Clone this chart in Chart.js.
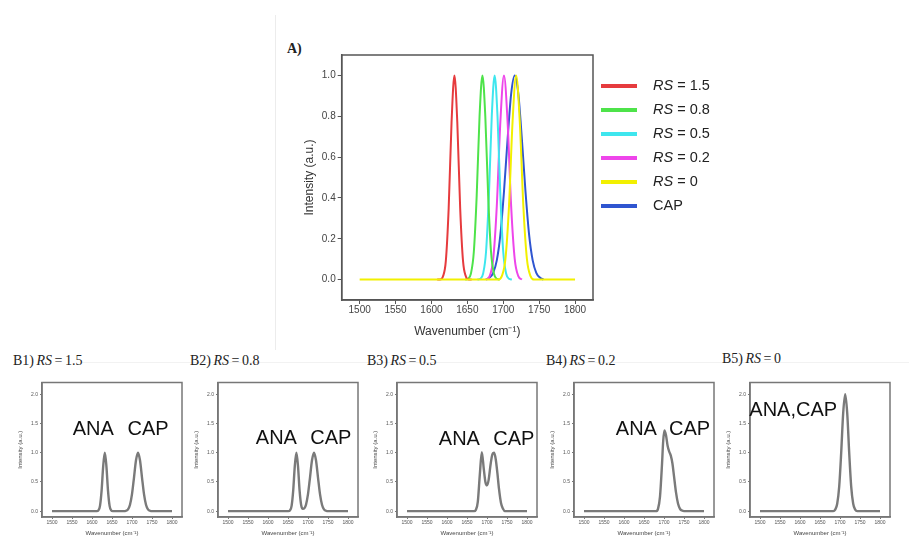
<!DOCTYPE html>
<html lang="en">
<head>
<meta charset="UTF-8">
<title>RS simulation</title>
<script src="https://cdn.jsdelivr.net/npm/chart.js"></script>
<style>
  body { margin: 0; background: #fff; }
  #page { position: relative; width: 909px; height: 540px; overflow: hidden; font-family: "Liberation Serif", "Times New Roman", serif; }
  canvas { position: absolute; }
  .ttl { position: absolute; font-size: 14px; color: #222; white-space: nowrap; word-spacing: -1px; }
  .faint { position: absolute; background: #ececec; }
</style>
</head>
<body>
<div id="page">
  <div class="faint" style="left:275px;top:15px;width:1px;height:335px"></div>
  <div class="faint" style="left:82px;top:362px;width:827px;height:1px;background:#f2f2f2"></div>
  <div class="ttl" style="left:287px;top:41px;font-weight:bold">A)</div>
  <div class="ttl" style="left:13px;top:353px">B1)&nbsp;<i>RS</i> = 1.5</div>
  <div class="ttl" style="left:190px;top:353px">B2)&nbsp;<i>RS</i> = 0.8</div>
  <div class="ttl" style="left:367px;top:353px">B3)&nbsp;<i>RS</i> = 0.5</div>
  <div class="ttl" style="left:546px;top:353px">B4)&nbsp;<i>RS</i> = 0.2</div>
  <div class="ttl" style="left:722px;top:351px">B5)&nbsp;<i>RS</i> = 0</div>
  <canvas id="main" width="440" height="320" style="left:280px;top:30px"></canvas>
  <canvas id="b1" width="180" height="180" style="left:5px;top:362px"></canvas>
  <canvas id="b2" width="180" height="180" style="left:181px;top:362px"></canvas>
  <canvas id="b3" width="180" height="180" style="left:360px;top:362px"></canvas>
  <canvas id="b4" width="180" height="180" style="left:537px;top:362px"></canvas>
  <canvas id="b5" width="180" height="180" style="left:713px;top:362px"></canvas>
</div>
<script>
// ticks
const mainXTicks = [1500, 1550, 1600, 1650, 1700, 1750, 1800];
const mainYTicks = [0, 0.2, 0.4, 0.6, 0.8, 1.0];
const smallYTicks = [0, 0.5, 1.0, 1.5, 2.0];

// panel A, one peak per series
const legendNames = ['1.5', '0.8', '0.5', '0.2', '0', 'CAP'];
const lineColors = ['#e63b3e', '#4ee34a', '#3ee6ee', '#ee45ea', '#f2f000', '#2f55d0'];

const rs15X = [1608, 1612, 1616, 1620, 1624, 1628, 1632, 1636, 1640, 1644, 1648, 1652, 1656];
const rs15Y = [0, 0, 0.015, 0.09, 0.35, 0.77, 1, 0.77, 0.35, 0.09, 0.015, 0, 0];
const rs08X = [1647, 1651, 1655, 1659, 1663, 1667, 1671, 1675, 1679, 1683, 1687, 1691, 1695];
const rs08Y = [0, 0.004, 0.03, 0.135, 0.41, 0.8, 1, 0.8, 0.41, 0.135, 0.03, 0.004, 0];
const rs05X = [1664, 1668, 1672, 1676, 1680, 1684, 1688, 1692, 1696, 1700, 1704, 1708, 1712];
const rs05Y = [0, 0.004, 0.03, 0.135, 0.41, 0.8, 1, 0.8, 0.41, 0.135, 0.03, 0.004, 0];
const rs02X = [1676, 1681, 1686, 1691, 1696, 1701, 1706, 1711, 1716, 1721, 1726];
const rs02Y = [0, 0.017, 0.1, 0.36, 0.775, 1, 0.775, 0.36, 0.1, 0.017, 0];
const rs0X = [1500, 1693, 1698, 1703, 1708, 1713, 1718, 1723, 1728, 1733, 1738, 1743, 1800];
const rs0Y = [0, 0, 0.017, 0.1, 0.36, 0.775, 1, 0.775, 0.36, 0.1, 0.017, 0, 0];
const capX = [1676, 1681, 1686, 1691, 1696, 1701, 1706, 1711, 1716, 1721, 1726, 1731, 1736, 1741, 1746, 1751, 1756];
const capY = [0, 0.01, 0.033, 0.094, 0.22, 0.43, 0.685, 0.91, 1, 0.91, 0.685, 0.43, 0.22, 0.094, 0.033, 0.01, 0];

// panels B1..B5, summed ANA + CAP signal
const b1X = [1500, 1612, 1616, 1620, 1624, 1628, 1632, 1636, 1640, 1644, 1648, 1652, 1680, 1685, 1690, 1695, 1700, 1705, 1710, 1715, 1720, 1725, 1730, 1735, 1740, 1745, 1750, 1800];
const b1Y = [0, 0, 0.015, 0.09, 0.35, 0.77, 1, 0.77, 0.35, 0.09, 0.015, 0, 0, 0.007, 0.03, 0.11, 0.29, 0.575, 0.87, 1, 0.87, 0.575, 0.29, 0.11, 0.03, 0.007, 0, 0];
const b2X = [1500, 1651, 1655, 1659, 1663, 1667, 1671, 1675, 1679, 1683, 1687, 1691, 1695, 1700, 1705, 1710, 1715, 1720, 1725, 1730, 1735, 1740, 1745, 1750, 1800];
const b2Y = [0, 0, 0.015, 0.09, 0.35, 0.77, 1, 0.77, 0.35, 0.1, 0.04, 0.05, 0.11, 0.29, 0.575, 0.87, 1, 0.87, 0.575, 0.29, 0.11, 0.03, 0.007, 0, 0];
const b3X = [1500, 1668, 1672, 1677, 1682, 1687, 1692, 1696, 1700, 1704, 1709, 1713, 1718, 1722, 1726, 1730, 1735, 1740, 1745, 1800];
const b3Y = [0, 0, 0.02, 0.16, 0.62, 1.01, 0.72, 0.5, 0.44, 0.53, 0.8, 0.96, 1.0, 0.88, 0.65, 0.38, 0.14, 0.04, 0, 0];
const b4X = [1500, 1680, 1685, 1690, 1695, 1698, 1701, 1705, 1709, 1713, 1717, 1721, 1725, 1730, 1735, 1740, 1745, 1750, 1800];
const b4Y = [0, 0, 0.04, 0.25, 0.8, 1.2, 1.38, 1.3, 1.12, 1.02, 0.95, 0.82, 0.6, 0.32, 0.13, 0.04, 0.01, 0, 0];
const b5X = [1500, 1683, 1688, 1693, 1698, 1703, 1708, 1713, 1718, 1723, 1728, 1733, 1738, 1743, 1800];
const b5Y = [0, 0, 0.026, 0.126, 0.42, 1.0, 1.68, 2.0, 1.68, 1.0, 0.42, 0.126, 0.026, 0, 0];

function pts(xs, ys) {
  return xs.map((x, i) => ({ x: x, y: ys[i] }));
}

const sans = '"Liberation Sans", Arial, sans-serif';

// full box round the plot area
const framePlugin = {
  id: 'frame',
  afterDatasetsDraw(chart, args, opts) {
    const a = chart.chartArea, ctx = chart.ctx;
    ctx.save();
    ctx.strokeStyle = opts.color || '#555';
    ctx.lineWidth = opts.width || 1.5;
    ctx.strokeRect(a.left, a.top, a.right - a.left, a.bottom - a.top);
    ctx.restore();
  }
};

const legendPlugin = {
  id: 'rsLegend',
  afterDraw(chart, args, opts) {
    if (!opts.show) return;
    const ctx = chart.ctx;
    ctx.save();
    ctx.textBaseline = 'middle';
    chart.data.datasets.forEach((ds, i) => {
      const y = 56 + i * 24;
      ctx.strokeStyle = ds.borderColor;
      ctx.lineWidth = 4;
      ctx.beginPath();
      ctx.moveTo(321, y);
      ctx.lineTo(357, y);
      ctx.stroke();
      ctx.fillStyle = '#222';
      let x = 373;
      if (ds.label === 'CAP') {
        ctx.font = '14.5px ' + sans;
        ctx.fillText('CAP', x, y);
      } else {
        ctx.font = 'italic 14.5px ' + sans;
        ctx.fillText('RS', x, y);
        x += ctx.measureText('RS').width;
        ctx.font = '14.5px ' + sans;
        ctx.fillText(' = ' + ds.label, x, y);
      }
    });
    ctx.restore();
  }
};

const peakLabelPlugin = {
  id: 'peakLabels',
  afterDraw(chart, args, opts) {
    if (!opts.items) return;
    const ctx = chart.ctx, sx = chart.scales.x, sy = chart.scales.y;
    ctx.save();
    ctx.font = '20px ' + sans;
    ctx.fillStyle = '#111';
    ctx.textAlign = 'center';
    ctx.textBaseline = 'middle';
    opts.items.forEach(it => {
      ctx.fillText(it.text, sx.getPixelForValue(it.x), sy.getPixelForValue(it.y));
    });
    ctx.restore();
  }
};

Chart.register(framePlugin, legendPlugin, peakLabelPlugin);

const mainSets = [
  [rs15X, rs15Y], [rs08X, rs08Y], [rs05X, rs05Y], [rs02X, rs02Y], [rs0X, rs0Y], [capX, capY]
];

new Chart(document.getElementById('main'), {
  type: 'line',
  data: {
    datasets: mainSets.map((s, i) => ({
      label: legendNames[i],
      data: pts(s[0], s[1]),
      borderColor: lineColors[i],
      borderWidth: 2,
      pointRadius: 0,
      cubicInterpolationMode: 'monotone',
      fill: false,
      order: legendNames[i] === '0' ? 0 : 1
    }))
  },
  options: {
    responsive: false,
    animation: false,
    layout: { padding: { left: 20, right: 127, top: 25, bottom: 10 } },
    plugins: {
      legend: { display: false },
      tooltip: { enabled: false },
      rsLegend: { show: true }
    },
    scales: {
      x: {
        type: 'linear', min: 1475, max: 1825,
        afterBuildTicks: s => { s.ticks = mainXTicks.map(v => ({ value: v })); },
        afterFit: s => { s.height = 40; },
        ticks: { font: { size: 10, family: sans }, color: '#444', padding: 0, maxRotation: 0, callback: v => String(v) },
        grid: { drawOnChartArea: false, tickLength: 4, color: '#555' },
        border: { color: '#555', width: 1.5 },
        title: { display: true, text: 'Wavenumber (cm⁻¹)', font: { size: 12, family: sans }, color: '#333', padding: { top: 2, bottom: 1 } }
      },
      y: {
        min: -0.1, max: 1.1,
        afterBuildTicks: s => { s.ticks = mainYTicks.map(v => ({ value: v })); },
        afterFit: s => { s.width = 41.7; },
        ticks: { font: { size: 10, family: sans }, color: '#444', padding: 2, callback: v => v.toFixed(1) },
        grid: { drawOnChartArea: false, tickLength: 4, color: '#555' },
        border: { color: '#555', width: 1.5 },
        title: { display: true, text: 'Intensity (a.u.)', font: { size: 12, family: sans }, color: '#333', padding: { top: 2, bottom: 2 } }
      }
    }
  }
});

function smallChart(id, xs, ys, labels) {
  new Chart(document.getElementById(id), {
    type: 'line',
    data: {
      datasets: [{
        data: pts(xs, ys),
        borderColor: '#7a7a7a',
        borderWidth: 2.4,
        pointRadius: 0,
        cubicInterpolationMode: 'monotone',
        fill: false
      }]
    },
    options: {
      responsive: false,
      animation: false,
      layout: { padding: { left: 12, right: 3, top: 20.5, bottom: 5 } },
      plugins: {
        legend: { display: false },
        tooltip: { enabled: false },
        frame: { color: '#777', width: 1.5 },
        peakLabels: { items: labels }
      },
      scales: {
        x: {
          type: 'linear', min: 1475, max: 1825,
          afterBuildTicks: s => { s.ticks = mainXTicks.map(v => ({ value: v })); },
          afterFit: s => { s.height = 20; },
          ticks: { font: { size: 5, family: sans }, color: '#555', padding: 1, maxRotation: 0, autoSkip: false, callback: v => String(v) },
          grid: { drawOnChartArea: false, tickLength: 2, color: '#777' },
          border: { color: '#777', width: 1.5 },
          title: { display: true, text: 'Wavenumber (cm⁻¹)', font: { size: 6, family: sans }, color: '#444', padding: { top: 0, bottom: 0 } }
        },
        y: {
          min: -0.1, max: 2.2,
          afterBuildTicks: s => { s.ticks = smallYTicks.map(v => ({ value: v })); },
          afterFit: s => { s.width = 25; },
          ticks: { font: { size: 5, family: sans }, color: '#555', padding: 2, callback: v => v.toFixed(1) },
          grid: { drawOnChartArea: false, tickLength: 2, color: '#777' },
          border: { color: '#777', width: 1.5 },
          title: { display: true, text: 'Intensity (a.u.)', font: { size: 6, family: sans }, color: '#444', padding: { top: 0, bottom: 1 } }
        }
      }
    }
  });
}

smallChart('b1', b1X, b1Y, [{ text: 'ANA', x: 1603, y: 1.39 }, { text: 'CAP', x: 1740, y: 1.39 }]);
smallChart('b2', b2X, b2Y, [{ text: 'ANA', x: 1621, y: 1.25 }, { text: 'CAP', x: 1757, y: 1.25 }]);
smallChart('b3', b3X, b3Y, [{ text: 'ANA', x: 1631, y: 1.23 }, { text: 'CAP', x: 1767, y: 1.23 }]);
smallChart('b4', b4X, b4Y, [{ text: 'ANA', x: 1631, y: 1.4 }, { text: 'CAP', x: 1764, y: 1.4 }]);
smallChart('b5', b5X, b5Y, [{ text: 'ANA,CAP', x: 1583, y: 1.73 }]);
</script>
</body>
</html>
